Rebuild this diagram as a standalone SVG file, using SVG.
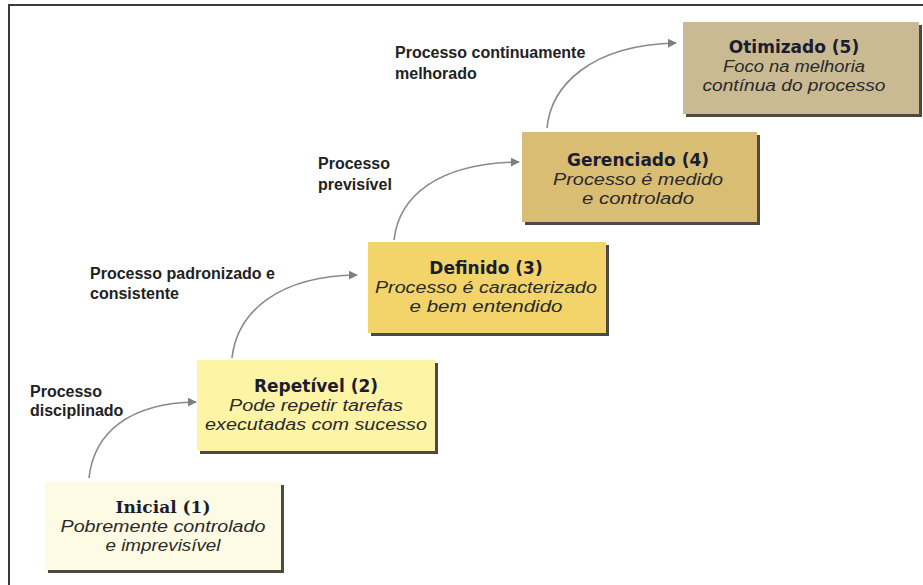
<svg xmlns="http://www.w3.org/2000/svg" width="923" height="585" viewBox="0 0 923 585">
  <defs>
    <marker id="arrow" viewBox="0 0 10 10" refX="9" refY="5" markerWidth="9" markerHeight="9" markerUnits="userSpaceOnUse" orient="auto">
      <path d="M0,0 L10,5 L0,10 Z" fill="#7f7f7f"/>
    </marker>
    <style>
      .frame { stroke: #3a3a3a; stroke-width: 2; fill: none; }
      .shadow { fill: #4e4a42; }
      .title { font-family: "DejaVu Sans", "Liberation Sans", sans-serif; font-weight: bold; font-size: 17px; fill: #1c1c30; text-anchor: middle; }
      .title-serif { font-family: "DejaVu Serif", "Liberation Serif", serif; font-weight: bold; font-size: 17px; fill: #1c1c30; text-anchor: middle; }
      .sub { font-family: "Liberation Sans", Arial, sans-serif; font-style: italic; font-size: 16px; fill: #2a2a2a; text-anchor: middle; }
      .label { font-family: "Liberation Sans", Arial, sans-serif; font-weight: bold; font-size: 16px; fill: #222; }
      .conn { fill: none; stroke: #8a8a8a; stroke-width: 1.6; marker-end: url(#arrow); }
    </style>
  </defs>

  <rect width="923" height="585" fill="#ffffff"/>

  <!-- outer frame: top and left edges -->
  <g id="frame">
    <line class="frame" x1="8" y1="5" x2="923" y2="5"/>
    <line class="frame" x1="9" y1="5" x2="9" y2="585"/>
  </g>

  <!-- curved step connectors -->
  <g id="connectors">
    <path class="conn" d="M89,478 C94,432 130,403 196,402"/>
    <path class="conn" d="M232,358 C237,312 278,276 357,275"/>
    <path class="conn" d="M394,240 C399,196 438,163 519,162"/>
    <path class="conn" d="M547,128 C551,86 590,45 676,43"/>
  </g>

  <!-- step labels -->
  <g id="labels">
    <text class="label" x="30" y="397">Processo</text>
    <text class="label" x="30" y="416">disciplinado</text>
    <text class="label" x="90" y="279">Processo padronizado e</text>
    <text class="label" x="90" y="299">consistente</text>
    <text class="label" x="318" y="169">Processo</text>
    <text class="label" x="318" y="190">previsível</text>
    <text class="label" x="395" y="58">Processo continuamente</text>
    <text class="label" x="395" y="79">melhorado</text>
  </g>

  <g id="inicial">
    <rect class="shadow" x="48" y="485" width="236" height="88"/>
    <rect x="45" y="482" width="236" height="88" fill="#fdfbe3"/>
    <text class="title-serif" x="163" y="513">Inicial (1)</text>
    <text class="sub" x="163" y="532" textLength="205" lengthAdjust="spacingAndGlyphs">Pobremente controlado</text>
    <text class="sub" x="163" y="551" textLength="115" lengthAdjust="spacingAndGlyphs">e imprevisível</text>
  </g>

  <g id="repetivel">
    <rect class="shadow" x="200" y="363" width="238" height="91"/>
    <rect x="197" y="360" width="238" height="91" fill="#fdf4a6"/>
    <text class="title" x="316" y="392">Repetível (2)</text>
    <text class="sub" x="316" y="411" textLength="174" lengthAdjust="spacingAndGlyphs">Pode repetir tarefas</text>
    <text class="sub" x="316" y="430" textLength="222" lengthAdjust="spacingAndGlyphs">executadas com sucesso</text>
  </g>

  <g id="definido">
    <rect class="shadow" x="371" y="245" width="238" height="91"/>
    <rect x="368" y="242" width="238" height="91" fill="#f2d46a"/>
    <text class="title" x="486" y="274">Definido (3)</text>
    <text class="sub" x="486" y="293" textLength="222" lengthAdjust="spacingAndGlyphs">Processo é caracterizado</text>
    <text class="sub" x="486" y="312" textLength="153" lengthAdjust="spacingAndGlyphs">e  bem entendido</text>
  </g>

  <g id="gerenciado">
    <rect class="shadow" x="525" y="135" width="235" height="90"/>
    <rect x="522" y="132" width="235" height="90" fill="#d9bd72"/>
    <text class="title" x="638" y="166">Gerenciado (4)</text>
    <text class="sub" x="638" y="185" textLength="170" lengthAdjust="spacingAndGlyphs">Processo é medido</text>
    <text class="sub" x="638" y="204" textLength="112" lengthAdjust="spacingAndGlyphs">e controlado</text>
  </g>

  <g id="otimizado">
    <rect class="shadow" x="686" y="25" width="236" height="92"/>
    <rect x="683" y="22" width="236" height="92" fill="#c9ba94"/>
    <text class="title" x="794" y="53">Otimizado (5)</text>
    <text class="sub" x="794" y="72" textLength="142" lengthAdjust="spacingAndGlyphs">Foco na melhoria</text>
    <text class="sub" x="794" y="91" textLength="183" lengthAdjust="spacingAndGlyphs">contínua do processo</text>
  </g>
</svg>
